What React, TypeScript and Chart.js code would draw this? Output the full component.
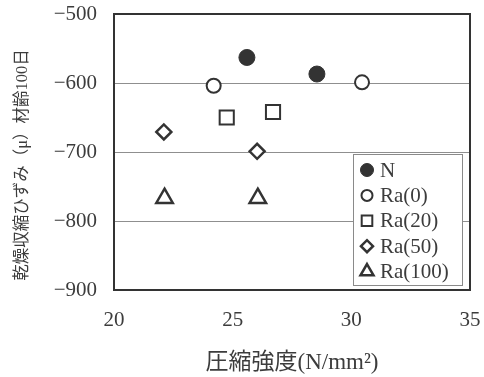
import React, { useEffect, useRef } from 'react';
import { Chart, registerables } from 'chart.js';

Chart.register(...registerables);

// ---- data ----
const seriesNames = ['N', 'Ra(0)', 'Ra(20)', 'Ra(50)', 'Ra(100)'];
const nStrength = [25.6, 28.55];
const nShrink = [-563, -587];
const ra0Strength = [24.2, 30.45];
const ra0Shrink = [-604, -599];
const ra20Strength = [24.75, 26.7];
const ra20Shrink = [-650, -642];
const ra50Strength = [22.1, 26.03];
const ra50Shrink = [-671, -699];
const ra100Strength = [22.13, 26.06];
const ra100Shrink = [-767, -767];
const xTicks = [20, 25, 30, 35];
const yTicks = [-900, -800, -700, -600, -500];
const xTitle = '圧縮強度(N/mm²)';
const yTitle = '乾燥収縮ひずみ（μ）材齢100日';

const FONT = "'Liberation Serif', 'Noto Sans CJK JP', serif";
const INK = '#333333';
const TEXT = '#3c3c3c';

const styles = [
  { pointStyle: 'circle', radius: 8, fill: INK, bw: 1, legendR: 6.5 },
  { pointStyle: 'circle', radius: 7, fill: '#ffffff', bw: 2, legendR: 5.5 },
  { pointStyle: 'rect', radius: 10, fill: '#ffffff', bw: 2, legendR: 7.5 },
  { pointStyle: 'rectRot', radius: 7.5, fill: '#ffffff', bw: 2.5, legendR: 6 },
  { pointStyle: 'triangle', radius: 9.5, fill: '#ffffff', bw: 2.5, legendR: 7.5 },
];

const pairs = (xs: number[], ys: number[]) => xs.map((x, i) => ({ x, y: ys[i] }));
const seriesData = [
  pairs(nStrength, nShrink),
  pairs(ra0Strength, ra0Shrink),
  pairs(ra20Strength, ra20Shrink),
  pairs(ra50Strength, ra50Shrink),
  pairs(ra100Strength, ra100Shrink),
];

function drawMarker(ctx: CanvasRenderingContext2D, style: string, x: number, y: number, r: number) {
  ctx.beginPath();
  if (style === 'circle') {
    ctx.arc(x, y, r, 0, Math.PI * 2);
  } else if (style === 'rect') {
    const s = r * Math.SQRT1_2;
    ctx.rect(x - s, y - s, 2 * s, 2 * s);
  } else if (style === 'rectRot') {
    ctx.moveTo(x - r, y);
    ctx.lineTo(x, y - r);
    ctx.lineTo(x + r, y);
    ctx.lineTo(x, y + r);
    ctx.closePath();
  } else if (style === 'triangle') {
    ctx.moveTo(x, y - r);
    ctx.lineTo(x + Math.sin((2 * Math.PI) / 3) * r, y + r / 2);
    ctx.lineTo(x - Math.sin((2 * Math.PI) / 3) * r, y + r / 2);
    ctx.closePath();
  }
}

const decorPlugin = {
  id: 'decor',
  beforeDatasetsDraw(chart: any) {
    const { ctx, chartArea } = chart;
    ctx.save();
    ctx.strokeStyle = INK;
    ctx.lineWidth = 2;
    ctx.strokeRect(chartArea.left, chartArea.top, chartArea.right - chartArea.left, chartArea.bottom - chartArea.top);
    // y title
    ctx.fillStyle = TEXT;
    ctx.font = `16.5px ${FONT}`;
    ctx.textAlign = 'center';
    ctx.textBaseline = 'middle';
    ctx.translate(23, (chartArea.top + chartArea.bottom) / 2 + 13);
    ctx.rotate(-Math.PI / 2);
    ctx.fillText(yTitle, 0, 0);
    ctx.restore();
  },
  afterDatasetsDraw(chart: any) {
    const { ctx, chartArea } = chart;
    ctx.save();
    const left = chartArea.right - 117;
    const right = chartArea.right - 8;
    const bottom = chartArea.bottom - 5;
    const top = bottom - 131;
    ctx.fillStyle = '#ffffff';
    ctx.fillRect(left, top, right - left, bottom - top);
    ctx.strokeStyle = '#8a8a8a';
    ctx.lineWidth = 1;
    ctx.strokeRect(left + 0.5, top + 0.5, right - left, bottom - top);
    ctx.font = `21px ${FONT}`;
    ctx.textAlign = 'left';
    ctx.textBaseline = 'middle';
    seriesNames.forEach((name, i) => {
      const cy = top + 16 + i * 25.4;
      const st = styles[i];
      drawMarker(ctx, st.pointStyle, left + 14, cy, st.legendR);
      ctx.fillStyle = st.fill;
      ctx.fill();
      ctx.strokeStyle = INK;
      ctx.lineWidth = st.bw;
      ctx.stroke();
      ctx.fillStyle = TEXT;
      ctx.fillText(name, left + 27, cy + 1);
    });
    ctx.restore();
  },
};

export default function App() {
  const ref = useRef<HTMLCanvasElement | null>(null);
  useEffect(() => {
    if (!ref.current) return;
    const chart = new Chart(ref.current, {
      type: 'scatter',
      data: {
        datasets: seriesNames.map((name, i) => ({
          label: name,
          data: seriesData[i],
          pointStyle: styles[i].pointStyle as any,
          pointRadius: styles[i].radius,
          pointBackgroundColor: styles[i].fill,
          pointBorderColor: INK,
          pointBorderWidth: styles[i].bw,
          showLine: false,
        })),
      },
      options: {
        responsive: false,
        animation: false,
        events: [],
        layout: { padding: { top: 14, right: 14, left: 0, bottom: 0 } },
        plugins: { legend: { display: false }, tooltip: { enabled: false } },
        scales: {
          x: {
            type: 'linear',
            min: xTicks[0],
            max: xTicks[xTicks.length - 1],
            afterBuildTicks: (s: any) => { s.ticks = xTicks.map((v) => ({ value: v })); },
            ticks: { font: { family: FONT, size: 21 }, color: TEXT, padding: 18 },
            grid: { display: false, drawTicks: false },
            border: { display: false },
            title: {
              display: true,
              text: xTitle,
              font: { family: FONT, size: 23 },
              color: TEXT,
              padding: { top: 0, bottom: 0 },
            },
            afterFit: (s: any) => {
              s.height = 87;
              s.paddingLeft = 0;
              s.paddingRight = 0;
            },
          },
          y: {
            type: 'linear',
            min: yTicks[0],
            max: yTicks[yTicks.length - 1],
            afterBuildTicks: (s: any) => { s.ticks = yTicks.map((v) => ({ value: v })); },
            ticks: {
              font: { family: FONT, size: 21 },
              color: TEXT,
              padding: 17,
              callback: (v: any) => String(v).replace('-', '\u2212'),
            },
            grid: { color: '#8f8f8f', lineWidth: 1, drawTicks: false },
            border: { display: false },
            afterFit: (s: any) => {
              s.width = 114;
              s.paddingTop = 0;
              s.paddingBottom = 0;
            },
          },
        },
      },
      plugins: [decorPlugin],
    });
    return () => chart.destroy();
  }, []);
  return (
    <div style={{ position: 'absolute', left: 0, top: 0, width: 484, height: 377, background: '#fff' }}>
      <canvas ref={ref} width={484} height={377} style={{ display: 'block' }} />
    </div>
  );
}
